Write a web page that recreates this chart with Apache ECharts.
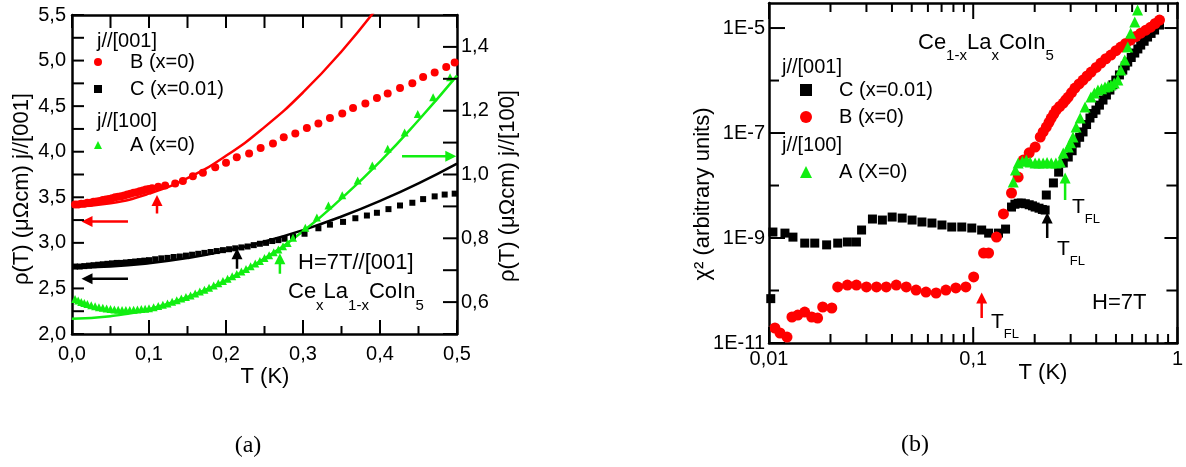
<!DOCTYPE html>
<html><head><meta charset="utf-8">
<script src="https://cdn.jsdelivr.net/npm/echarts@6/dist/echarts.min.js"></script>
<style>html,body{margin:0;padding:0;background:#fff}#c{width:1186px;height:467px}</style>
</head><body><div id="c"></div>
<script>
// ---------- Panel (a): rho(T) vs T ----------
const aB = [[0.004,3.42],[0.008,3.42],[0.012,3.43],[0.016,3.43],[0.020,3.44],[0.024,3.44],[0.028,3.45],[0.032,3.455],[0.036,3.46],[0.040,3.47],[0.044,3.475],[0.048,3.48],[0.052,3.49],[0.056,3.50],[0.060,3.505],[0.064,3.51],[0.068,3.52],[0.072,3.53],[0.076,3.54],[0.080,3.55],[0.084,3.555],[0.088,3.565],[0.092,3.575],[0.096,3.585],[0.100,3.59],[0.104,3.60],[0.112,3.615],[0.121,3.63],[0.134,3.65],[0.144,3.68],[0.157,3.73],[0.170,3.77],[0.186,3.83],[0.200,3.88],[0.214,3.94],[0.230,3.98],[0.245,4.04],[0.261,4.09],[0.275,4.16],[0.290,4.20],[0.305,4.26],[0.320,4.31],[0.335,4.37],[0.351,4.42],[0.365,4.48],[0.381,4.53],[0.396,4.59],[0.410,4.64],[0.426,4.70],[0.442,4.75],[0.456,4.82],[0.471,4.87],[0.486,4.93],[0.497,4.98]];
const aC = [[0.004,2.74],[0.010,2.74],[0.016,2.745],[0.022,2.75],[0.028,2.755],[0.034,2.76],[0.040,2.765],[0.046,2.77],[0.052,2.775],[0.058,2.78],[0.064,2.78],[0.070,2.785],[0.076,2.79],[0.082,2.795],[0.088,2.80],[0.094,2.805],[0.100,2.81],[0.108,2.82],[0.116,2.83],[0.124,2.835],[0.132,2.845],[0.140,2.85],[0.148,2.86],[0.156,2.87],[0.164,2.88],[0.172,2.89],[0.180,2.90],[0.188,2.91],[0.196,2.92],[0.204,2.93],[0.212,2.94],[0.220,2.95],[0.228,2.96],[0.236,2.975],[0.244,2.99],[0.252,3.00],[0.260,3.02],[0.268,3.03],[0.276,3.045],[0.287,3.07],[0.302,3.10],[0.320,3.16],[0.335,3.20],[0.352,3.23],[0.368,3.27],[0.383,3.30],[0.396,3.33],[0.411,3.37],[0.426,3.41],[0.442,3.44],[0.456,3.48],[0.471,3.51],[0.484,3.53],[0.497,3.54]];
const aA = [[0.004,0.61],[0.008,0.605],[0.012,0.60],[0.016,0.597],[0.020,0.594],[0.025,0.59],[0.030,0.587],[0.035,0.584],[0.040,0.582],[0.045,0.58],[0.050,0.578],[0.055,0.577],[0.060,0.576],[0.065,0.575],[0.070,0.575],[0.075,0.575],[0.080,0.576],[0.085,0.577],[0.090,0.578],[0.095,0.579],[0.100,0.581],[0.106,0.584],[0.112,0.588],[0.118,0.592],[0.124,0.596],[0.130,0.601],[0.136,0.606],[0.142,0.611],[0.148,0.616],[0.154,0.621],[0.160,0.627],[0.166,0.633],[0.172,0.639],[0.178,0.645],[0.184,0.652],[0.190,0.659],[0.196,0.666],[0.202,0.673],[0.208,0.681],[0.214,0.688],[0.220,0.696],[0.226,0.704],[0.232,0.712],[0.238,0.721],[0.244,0.729],[0.250,0.738],[0.256,0.747],[0.262,0.756],[0.268,0.765],[0.274,0.775],[0.280,0.785],[0.287,0.802],[0.303,0.833],[0.318,0.865],[0.333,0.903],[0.351,0.935],[0.371,0.981],[0.390,1.028],[0.410,1.081],[0.432,1.132],[0.449,1.19],[0.469,1.242],[0.491,1.305]];
const aFitB = [[0,3.40],[0.05,3.435],[0.1,3.54],[0.15,3.71],[0.2,3.955],[0.25,4.27],[0.3,4.65],[0.35,5.10],[0.4,5.62]];
const aFitC = [[0,2.73],[0.05,2.741],[0.1,2.776],[0.15,2.833],[0.2,2.912],[0.25,3.015],[0.3,3.14],[0.35,3.289],[0.4,3.46],[0.45,3.653],[0.5,3.87]];
const aFitA = [[0,0.548],[0.05,0.556],[0.1,0.578],[0.15,0.616],[0.2,0.668],[0.25,0.737],[0.3,0.822],[0.35,0.925],[0.4,1.04],[0.45,1.17],[0.5,1.31]];

// ---------- Panel (b): chi^2 vs T (log-log) ----------
const bC = [[0.0102,7.0e-11],[0.01045,1.30e-9],[0.01197,1.24e-9],[0.0131,1.04e-9],[0.01496,8.0e-10],[0.01675,8.0e-10],[0.01915,7.4e-10],[0.0217,8.0e-10],[0.0242,8.4e-10],[0.0268,8.4e-10],[0.0284,1.42e-9],[0.0321,2.30e-9],[0.0359,2.20e-9],[0.0401,2.51e-9],[0.0449,2.40e-9],[0.0502,2.20e-9],[0.0561,2.02e-9],[0.0628,1.93e-9],[0.0703,1.77e-9],[0.0785,1.62e-9],[0.0879,1.62e-9],[0.0984,1.55e-9],[0.110,1.42e-9],[0.119,1.24e-9],[0.133,1.24e-9],[0.144,1.48e-9],[0.154,3.89e-9],[0.160,4.4e-9],[0.166,4.6e-9],[0.172,4.64e-9],[0.180,4.5e-9],[0.188,4.3e-9],[0.195,4.1e-9],[0.201,3.89e-9],[0.210,3.7e-9],[0.218,3.5e-9],[0.225,3.41e-9],[0.228,6.59e-9],[0.247,1.12e-8],[0.262,1.8e-8],[0.276,2.69e-8],[0.292,3.49e-8],[0.305,4.6e-8],[0.319,6.45e-8],[0.332,8.3e-8],[0.345,1.05e-7],[0.359,1.45e-7],[0.373,1.93e-7],[0.386,2.35e-7],[0.399,2.74e-7],[0.415,3.4e-7],[0.432,4.25e-7],[0.449,5.3e-7],[0.467,6.59e-7],[0.483,8.3e-7],[0.499,1.02e-6],[0.520,1.28e-6],[0.540,1.58e-6],[0.555,1.9e-6],[0.571,2.25e-6],[0.594,2.75e-6],[0.618,3.34e-6],[0.640,4.0e-6],[0.661,4.74e-6],[0.687,5.6e-6],[0.714,6.74e-6],[0.743,7.9e-6],[0.773,9.16e-6],[0.817,1.14e-5]];
const bB = [[0.01069,1.93e-11],[0.01132,1.55e-11],[0.01225,1.30e-11],[0.01295,3.13e-11],[0.01384,3.41e-11],[0.01496,3.89e-11],[0.01619,3.13e-11],[0.0173,2.99e-11],[0.01832,4.85e-11],[0.0203,4.64e-11],[0.0217,1.17e-10],[0.0242,1.27e-10],[0.0268,1.27e-10],[0.0300,1.17e-10],[0.0336,1.17e-10],[0.0375,1.17e-10],[0.0420,1.27e-10],[0.0470,1.17e-10],[0.0525,1.02e-10],[0.0587,9.36e-11],[0.0658,8.96e-11],[0.0735,1.02e-10],[0.0822,1.12e-10],[0.0920,1.17e-10],[0.1005,1.81e-10],[0.1124,5.18e-10],[0.1189,5.18e-10],[0.130,1.04e-9],[0.1406,2.87e-9],[0.154,7.2e-9],[0.166,1.45e-8],[0.176,3.06e-8],[0.188,4.2e-8],[0.201,5.4e-8],[0.213,8.4e-8],[0.220,1.05e-7],[0.228,1.30e-7],[0.235,1.6e-7],[0.241,1.93e-7],[0.248,2.3e-7],[0.255,2.74e-7],[0.265,3.2e-7],[0.276,3.73e-7],[0.284,4.3e-7],[0.292,4.85e-7],[0.303,5.9e-7],[0.315,7.2e-7],[0.330,8.6e-7],[0.345,1.02e-6],[0.361,1.22e-6],[0.378,1.45e-6],[0.400,1.78e-6],[0.422,2.15e-6],[0.446,2.6e-6],[0.472,3.06e-6],[0.500,3.7e-6],[0.528,4.35e-6],[0.558,5.1e-6],[0.590,5.9e-6],[0.625,6.9e-6],[0.661,8.0e-6],[0.700,9.1e-6],[0.739,1.04e-5],[0.778,1.22e-5],[0.817,1.42e-5]];
const bA = [[0.157,1.17e-8],[0.161,1.97e-8],[0.166,2.69e-8],[0.174,2.9e-8],[0.182,3.06e-8],[0.190,2.8e-8],[0.201,2.69e-8],[0.210,2.7e-8],[0.220,2.69e-8],[0.230,2.75e-8],[0.241,2.69e-8],[0.254,2.7e-8],[0.267,2.81e-8],[0.276,4.16e-8],[0.292,5.4e-8],[0.300,6.5e-8],[0.308,8.4e-8],[0.319,1.30e-7],[0.334,1.93e-7],[0.353,3.13e-7],[0.377,4.85e-7],[0.392,5.8e-7],[0.408,6.6e-7],[0.425,7.0e-7],[0.442,7.5e-7],[0.457,7.8e-7],[0.472,8.2e-7],[0.490,9.0e-7],[0.511,1.02e-6],[0.528,1.58e-6],[0.552,2.45e-6],[0.571,4.35e-6],[0.590,8.0e-6],[0.618,1.30e-5],[0.638,2.2e-5]];

// tick values / labels
const aXMajor = [0, 0.1, 0.2, 0.3, 0.4, 0.5];
const aXMinor = [0.05, 0.15, 0.25, 0.35, 0.45];
const aYTicks = [2.0,2.25,2.5,2.75,3.0,3.25,3.5,3.75,4.0,4.25,4.5,4.75,5.0,5.25,5.5];
const aYLabels = [2.0,2.5,3.0,3.5,4.0,4.5,5.0,5.5];
const aY2Ticks = [0.5,0.6,0.7,0.8,0.9,1.0,1.1,1.2,1.3,1.4,1.5];
const aY2Labels = [0.6,0.8,1.0,1.2,1.4];
const bXMajor = [0.01, 0.1, 1];
const bXMinor = [0.02,0.03,0.04,0.05,0.06,0.07,0.08,0.09,0.2,0.3,0.4,0.5,0.6,0.7,0.8,0.9];
const bYMajor = [1e-11, 1e-9, 1e-7, 1e-5];
const bYMinor = [1e-10, 1e-8, 1e-6];

// arrows: [from, to, direction of head]
const aArrowsB = [[[0.0727,3.233],[0.0195,3.233],'left'], [[0.1104,3.321],[0.1104,3.464],'up']];
const aArrowsC = [[[0.0727,2.605],[0.0195,2.605],'left'], [[0.2143,2.715],[0.2143,2.880],'up']];
const aArrowsA = [[[0.270,0.689],[0.270,0.736],'up'], [[0.4286,1.057],[0.492,1.057],'right']];
const bArrowB = [[0.110,2.99e-11],[0.110,7.2e-11],'up'];
const bArrowC = [[0.2303,1.0e-9],[0.2303,2.4e-9],'up'];
const bArrowA = [[0.2818,5.3e-9],[0.2818,1.39e-8],'up'];

const FONT = "'Liberation Sans', Arial, sans-serif";
const RED = '#ff0000', BLK = '#000000', GRN = '#11ee11';
const comma = (v,d) => v.toFixed(d).replace('.', ',');
const AL = () => ({show:true, onZero:false, lineStyle:{color:'#000', width:2.5}});
const NOTICK = {show:false};
function logX(v){ const e = Math.round(Math.log10(v)); return e >= 0 ? String(Math.round(v)) : v.toFixed(-e).replace('.', ','); }
function logY(v){ return '1E' + Math.round(Math.log10(v)); }
const near = (v, arr) => arr.some(a => Math.abs(a - v) < 1e-6);
const LBL = {color:'#000', fontSize:20, fontFamily:FONT};

const xAxis = [
  {gridIndex:0, type:'value', position:'bottom', min:0, max:0.5, interval:0.1, axisLine:AL(), splitLine:{show:false},
    axisTick:NOTICK, axisLabel:Object.assign({margin:10, formatter:v=>comma(v,1)}, LBL)},
  {gridIndex:0, type:'value', position:'top', min:0, max:0.5, interval:0.05, axisLine:AL(), splitLine:{show:false},
    axisTick:NOTICK, axisLabel:{show:false}},
  {gridIndex:1, type:'log', logBase:10, position:'bottom', min:0.01, max:1, axisLine:AL(), splitLine:{show:false},
    axisTick:NOTICK, axisLabel:Object.assign({margin:6, customValues:bXMajor, formatter:logX}, LBL)},
  {gridIndex:1, type:'log', logBase:10, position:'top', min:0.01, max:1, axisLine:AL(), splitLine:{show:false},
    axisTick:NOTICK, axisLabel:{show:false}}
];
const yAxis = [
  {gridIndex:0, type:'value', position:'left', min:2, max:5.5, interval:0.25, axisLine:AL(), splitLine:{show:false},
    axisTick:NOTICK, axisLabel:Object.assign({margin:6, formatter:v => near(v, aYLabels) ? comma(v,1) : ''}, LBL)},
  {gridIndex:0, type:'value', position:'right', min:0.5, max:1.5, interval:0.1, axisLine:AL(), splitLine:{show:false},
    axisTick:NOTICK, axisLabel:Object.assign({margin:4, formatter:v => near(v, aY2Labels) ? comma(v,1) : ''}, LBL)},
  {gridIndex:1, type:'log', logBase:10, position:'left', min:1e-11, max:3e-5, axisLine:AL(), splitLine:{show:false},
    axisTick:NOTICK, axisLabel:Object.assign({margin:4, customValues:bYMajor, formatter:logY}, LBL)},
  {gridIndex:1, type:'log', logBase:10, position:'right', min:1e-11, max:3e-5, axisLine:AL(), splitLine:{show:false},
    axisTick:NOTICK, axisLabel:{show:false}}
];

const noEmph = {disabled:true};
const ROT = {up:0, left:90, right:-90};
function arrowSeries(arr, color, xi, yi, name){
  return {name:name, type:'line', xAxisIndex:xi, yAxisIndex:yi, silent:true, emphasis:noEmph, z:6,
    showSymbol:true, lineStyle:{color:color, width:2.5}, itemStyle:{color:color},
    data:[{value:arr[0], symbol:'none'}, {value:arr[1], symbol:'triangle', symbolSize:11, symbolRotate:ROT[arr[2]]}]};
}
const series = [
  {name:'fitB', type:'line', xAxisIndex:0, yAxisIndex:0, data:aFitB, smooth:true, showSymbol:false, lineStyle:{color:RED,width:2.5}, itemStyle:{color:RED}, emphasis:noEmph, z:2},
  {name:'fitC', type:'line', xAxisIndex:0, yAxisIndex:0, data:aFitC, smooth:true, showSymbol:false, lineStyle:{color:BLK,width:2.5}, itemStyle:{color:BLK}, emphasis:noEmph, z:2},
  {name:'fitA', type:'line', xAxisIndex:0, yAxisIndex:1, data:aFitA, smooth:true, showSymbol:false, lineStyle:{color:GRN,width:2.5}, itemStyle:{color:GRN}, emphasis:noEmph, z:2},
  {name:'B (x=0)', type:'scatter', xAxisIndex:0, yAxisIndex:0, data:aB, symbol:'circle', symbolSize:8, itemStyle:{color:RED, opacity:1}, emphasis:noEmph, z:3},
  {name:'C (x=0.01)', type:'scatter', xAxisIndex:0, yAxisIndex:0, data:aC, symbol:'rect', symbolSize:6, itemStyle:{color:BLK, opacity:1}, emphasis:noEmph, z:3},
  {name:'A (x=0)', type:'scatter', xAxisIndex:0, yAxisIndex:1, data:aA, symbol:'triangle', symbolSize:8, itemStyle:{color:GRN, opacity:1}, emphasis:noEmph, z:3},
  {name:'C (x=0.01)', type:'scatter', xAxisIndex:2, yAxisIndex:2, data:bC, symbol:'rect', symbolSize:9, itemStyle:{color:BLK, opacity:1}, emphasis:noEmph, z:3},
  {name:'B (x=0)', type:'scatter', xAxisIndex:2, yAxisIndex:2, data:bB, symbol:'circle', symbolSize:11, itemStyle:{color:RED, opacity:1}, emphasis:noEmph, z:4},
  {name:'A (X=0)', type:'scatter', xAxisIndex:2, yAxisIndex:2, data:bA, symbol:'triangle', symbolSize:11, itemStyle:{color:GRN, opacity:1}, emphasis:noEmph, z:5}
];
aArrowsB.forEach((a,i) => series.push(arrowSeries(a, RED, 0, 0, 'arrowB'+i)));
aArrowsC.forEach((a,i) => series.push(arrowSeries(a, BLK, 0, 0, 'arrowC'+i)));
aArrowsA.forEach((a,i) => series.push(arrowSeries(a, GRN, 0, 1, 'arrowA'+i)));
series.push(arrowSeries(bArrowB, RED, 2, 2, 'arrowbB'));
series.push(arrowSeries(bArrowC, BLK, 2, 2, 'arrowbC'));
series.push(arrowSeries(bArrowA, GRN, 2, 2, 'arrowbA'));

function leg(data, left, top, size, pad){
  return {data:data, orient:'vertical', left:left, top:top, itemWidth:size, itemHeight:size, itemGap:7, padding:0,
    selectedMode:false, textStyle:{fontSize:20, fontFamily:FONT, color:'#000', padding:[0,0,0,pad]}};
}
function txt(x, y, text, size, align){
  return {type:'text', x:x, y:y, silent:true, z:100,
    style:{text:text, fontSize:size, fontFamily:FONT, fill:'#000', align:align||'left', verticalAlign:'middle'}};
}
function vtxt(x, y, text, size){
  return {type:'text', x:x, y:y, rotation:Math.PI/2, silent:true, z:100,
    style:{text:text, fontSize:size, fontFamily:FONT, fill:'#000', align:'center', verticalAlign:'middle'}};
}
function rich(x, y, text, size, subSize, lh){
  return {type:'text', x:x, y:y, silent:true, z:100,
    style:{text:text, fontFamily:FONT, fill:'#000', align:'left', verticalAlign:'middle',
      rich:{m:{fontSize:size, fontFamily:FONT, lineHeight:lh, fill:'#000'},
            s:{fontSize:subSize, fontFamily:FONT, lineHeight:subSize, verticalAlign:'bottom', fill:'#000'}}}};
}
const graphic = [
  vtxt(22, 189, 'ρ(T) (μΩcm) j//[001]', 22),
  vtxt(508, 186, 'ρ(T) (μΩcm) j//[100]', 22),
  vtxt(703, 194, 'χ² (arbitrary units)', 22),
  txt(265, 377, 'T (K)', 22, 'center'),
  txt(1043, 373, 'T (K)', 22, 'center'),
  txt(97, 41, 'j//[001]', 20), txt(97, 121, 'j//[100]', 20),
  txt(782, 67, 'j//[001]', 20), txt(782, 145, 'j//[100]', 20),
  txt(298, 263, 'H=7T//[001]', 22),
  rich(288, 292, '{m|Ce}{s|x}{m|La}{s|1-x}{m|CoIn}{s|5}', 22, 15, 42),
  rich(918, 43, '{m|Ce}{s|1-x}{m|La}{s|x}{m|CoIn}{s|5}', 22, 15, 40),
  txt(1092, 303, 'H=7T', 22),
  rich(991, 322, '{m|T}{s|FL}', 21, 13, 38),
  rich(1057, 249, '{m|T}{s|FL}', 21, 13, 38),
  rich(1072, 207, '{m|T}{s|FL}', 21, 13, 38),
  {type:'text', x:248, y:446, silent:true, style:{text:'(a)', fontSize:24, fontFamily:"'Liberation Serif', serif", fill:'#000', align:'center', verticalAlign:'middle'}},
  {type:'text', x:915, y:445, silent:true, style:{text:'(b)', fontSize:24, fontFamily:"'Liberation Serif', serif", fill:'#000', align:'center', verticalAlign:'middle'}}
];

const option = {
  animation:false,
  textStyle:{fontFamily:FONT},
  grid:[
    {left:72, top:15, width:385, height:319},
    {left:769, top:3, width:410, height:340}
  ],
  xAxis:xAxis, yAxis:yAxis,
  legend:[
    leg(['B (x=0)','C (x=0.01)'], 94, 52, 8, 23),
    leg(['A (x=0)'], 94, 135, 8, 23),
    leg(['C (x=0.01)','B (x=0)'], 800, 80, 12, 22),
    leg(['A (X=0)'], 800, 162, 12, 22)
  ],
  graphic:graphic,
  series:series
};
const chart = echarts.init(document.getElementById('c'), null, {width:1186, height:467});
chart.setOption(option);

// tick marks: positions come from the library's own scales (convertToPixel), drawn inward from the frame
const tickEls = [];
function addTicks(xi, yi, pts, side, len){
  pts.forEach(pt => {
    const p = chart.convertToPixel({xAxisIndex:xi, yAxisIndex:yi}, pt);
    if (!p) return;
    const x = p[0], y = p[1];
    const d = {bottom:[0,-len], top:[0,len], left:[len,0], right:[-len,0]}[side];
    tickEls.push({type:'line', silent:true, z:50,
      shape:{x1:x, y1:y, x2:x + d[0], y2:y + d[1]},
      style:{stroke:'#000', lineWidth:2}});
  });
}
addTicks(0, 0, aXMajor.map(t => [t, 2]), 'bottom', 14);
addTicks(0, 0, aXMinor.map(t => [t, 2]), 'bottom', 8);
addTicks(0, 0, aXMajor.concat(aXMinor).map(t => [t, 5.5]), 'top', 13);
addTicks(0, 0, aYTicks.map(v => [0, v]), 'left', 12);
addTicks(0, 1, aY2Ticks.map(v => [0.5, v]), 'right', 14);
addTicks(2, 2, bXMajor.map(t => [t, 1e-11]), 'bottom', 16);
addTicks(2, 2, bXMinor.map(t => [t, 1e-11]), 'bottom', 9);
addTicks(2, 2, bXMajor.map(t => [t, 3e-5]), 'top', 16);
addTicks(2, 2, bXMinor.map(t => [t, 3e-5]), 'top', 9);
addTicks(2, 2, bYMajor.map(v => [0.01, v]), 'left', 16);
addTicks(2, 2, bYMinor.map(v => [0.01, v]), 'left', 10);
addTicks(2, 2, bYMajor.map(v => [1, v]), 'right', 13);
addTicks(2, 2, bYMinor.map(v => [1, v]), 'right', 11);
chart.setOption({graphic: graphic.concat(tickEls)});
</script>
</body></html>
